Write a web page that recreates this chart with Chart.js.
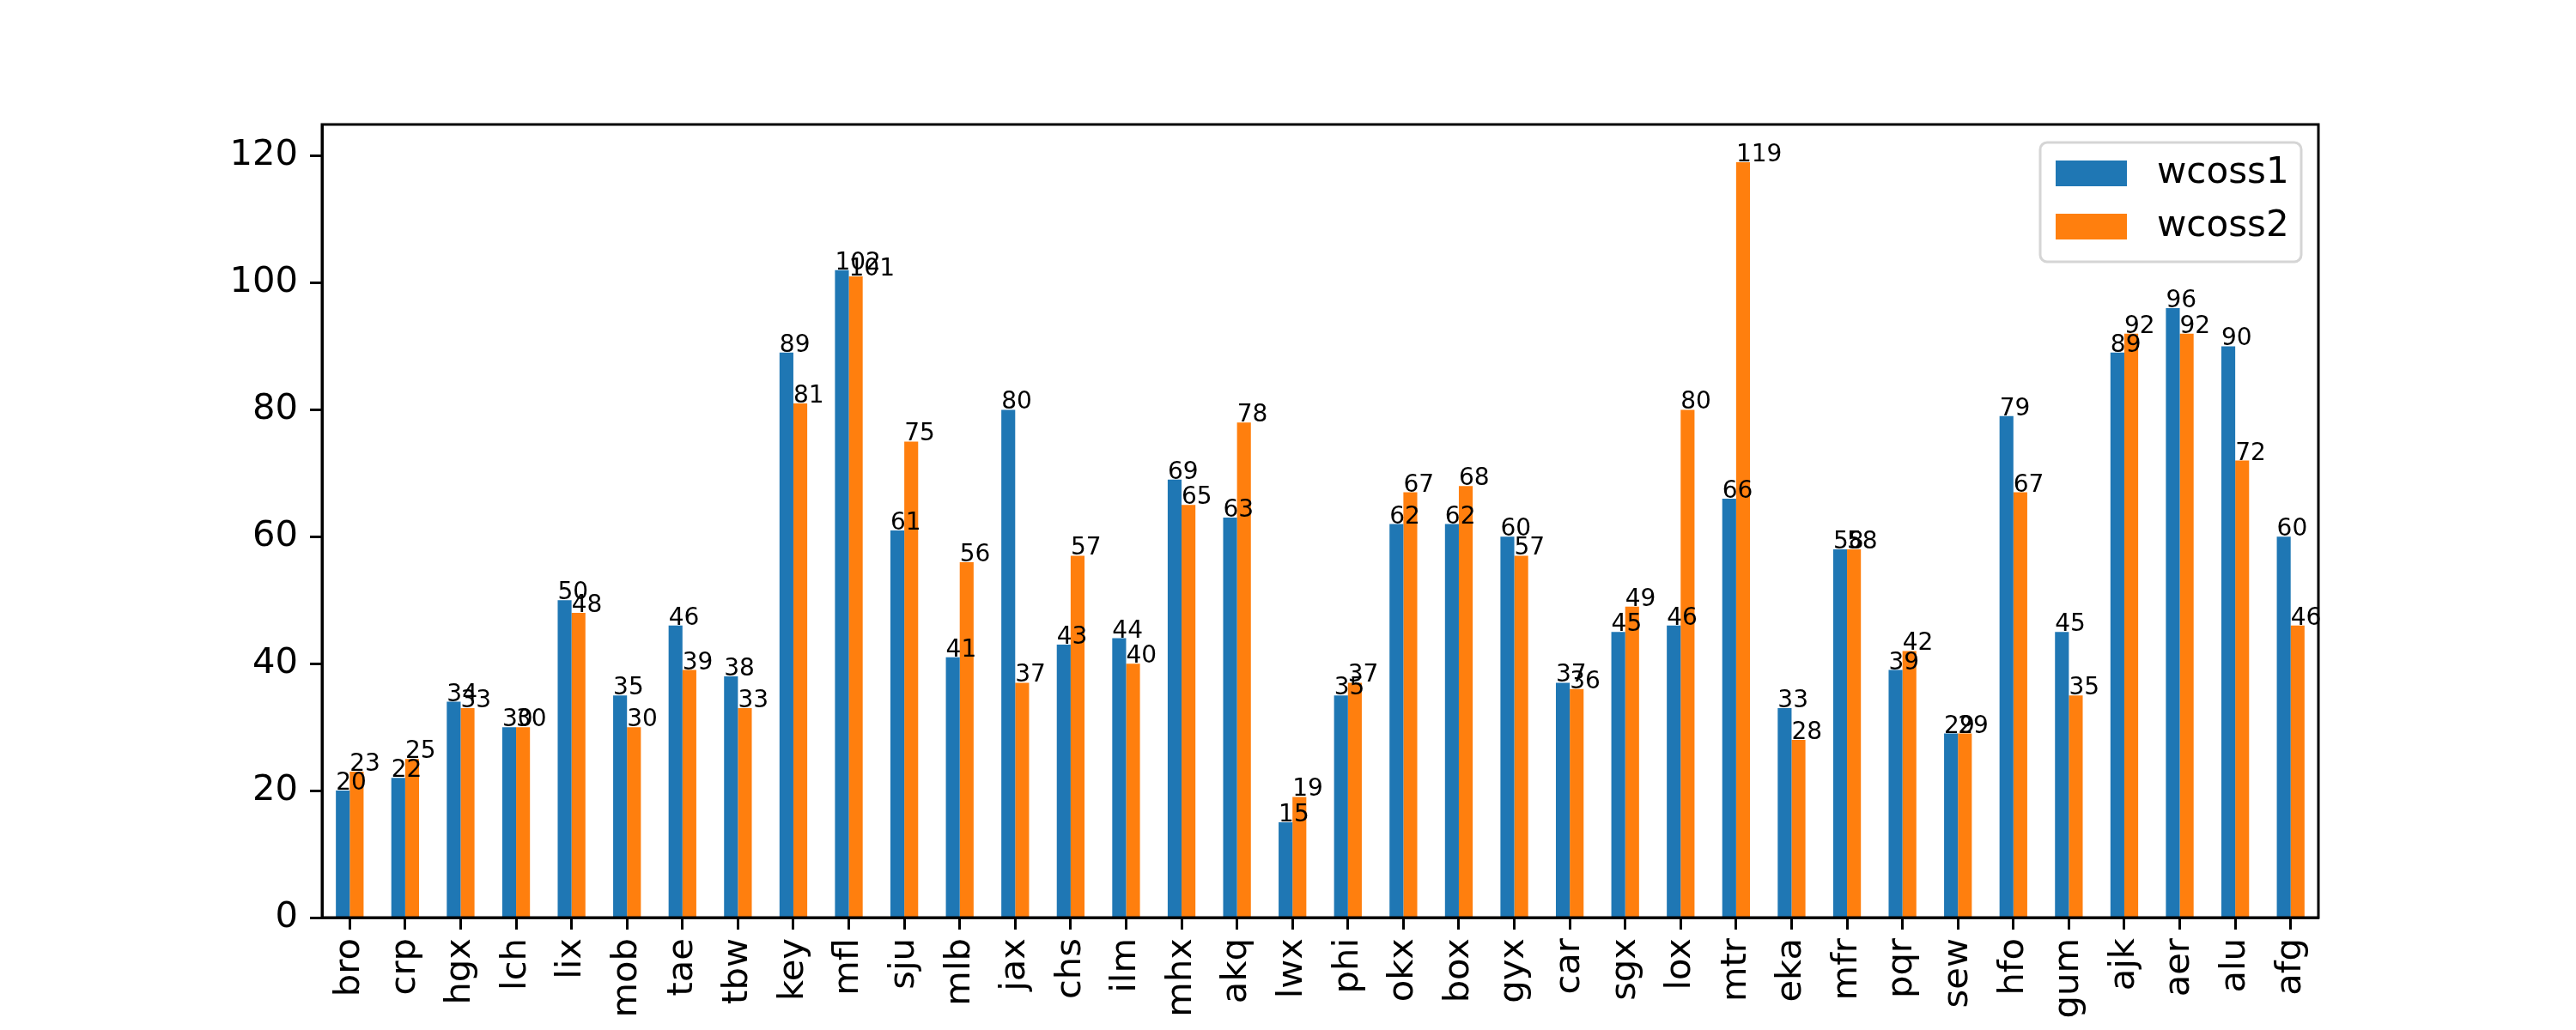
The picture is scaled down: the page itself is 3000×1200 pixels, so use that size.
<!DOCTYPE html>
<html>
<head>
<meta charset="utf-8">
<script src="https://cdn.jsdelivr.net/npm/chart.js@4.4.0/dist/chart.umd.min.js"></script>
<style>
  html, body { margin: 0; padding: 0; background: #fff; }
  canvas { display: block; }
</style>
</head>
<body>
<canvas id="chart" width="3000" height="1200" style="width:3000px;height:1200px"></canvas>
<script>
// Donnees
const categories = ['bro', 'crp', 'hgx', 'lch', 'lix', 'mob', 'tae', 'tbw', 'key', 'mfl', 'sju', 'mlb',
  'jax', 'chs', 'ilm', 'mhx', 'akq', 'lwx', 'phi', 'okx', 'box', 'gyx', 'car', 'sgx',
  'lox', 'mtr', 'eka', 'mfr', 'pqr', 'sew', 'hfo', 'gum', 'ajk', 'aer', 'alu', 'afg'];
const wcoss1 = [20, 22, 34, 30, 50, 35, 46, 38, 89, 102, 61, 41,
  80, 43, 44, 69, 63, 15, 35, 62, 62, 60, 37, 45,
  46, 66, 33, 58, 39, 29, 79, 45, 89, 96, 90, 60];
const wcoss2 = [23, 25, 33, 30, 48, 30, 39, 33, 81, 101, 75, 56,
  37, 57, 40, 65, 78, 19, 37, 67, 68, 57, 36, 49,
  80, 119, 28, 58, 42, 29, 67, 35, 92, 92, 72, 46];
const seriesNames = ['wcoss1', 'wcoss2'];
const yTicks = [0, 20, 40, 60, 80, 100, 120];
const yMax = 124.95;

const FONT = 'DejaVu Sans';
Chart.defaults.font.family = FONT;
Chart.defaults.color = '#000';

// Cadre autour de la zone de trace
const framePlugin = {
  id: 'frame',
  afterDraw(chart) {
    const { ctx, chartArea: a } = chart;
    ctx.save();
    ctx.strokeStyle = '#000';
    ctx.lineWidth = 3;
    ctx.strokeRect(a.left, a.top, a.right - a.left, a.bottom - a.top);
    ctx.restore();
  }
};

// Valeurs au-dessus des barres
const valuesPlugin = {
  id: 'values',
  afterDatasetsDraw(chart) {
    const { ctx } = chart;
    ctx.save();
    ctx.font = '28px "' + FONT + '"';
    ctx.fillStyle = '#000';
    ctx.textAlign = 'left';
    ctx.textBaseline = 'alphabetic';
    chart.data.datasets.forEach((ds, i) => {
      chart.getDatasetMeta(i).data.forEach((bar, j) => {
        ctx.fillText(String(ds.data[j]), bar.x - bar.width / 2, bar.y - 1);
      });
    });
    ctx.restore();
  }
};

// Legende dans le coin haut droit
const legendPlugin = {
  id: 'insideLegend',
  afterDraw(chart) {
    const { ctx, chartArea: a } = chart;
    const x = a.right - 324, y = a.top + 21, w = 304, h = 139;
    ctx.save();
    ctx.fillStyle = 'rgba(255,255,255,0.8)';
    ctx.strokeStyle = '#d5d5d5';
    ctx.lineWidth = 3;
    ctx.beginPath();
    ctx.roundRect(x, y, w, h, 8);
    ctx.fill();
    ctx.stroke();
    ctx.font = '42px "' + FONT + '"';
    ctx.textBaseline = 'middle';
    chart.data.datasets.forEach((ds, i) => {
      const cy = y + 36 + i * 62;
      ctx.fillStyle = ds.backgroundColor;
      ctx.fillRect(x + 18, cy - 15, 83, 30);
      ctx.fillStyle = '#000';
      ctx.fillText(ds.label, x + 136, cy);
    });
    ctx.restore();
  }
};

const ctx = document.getElementById('chart').getContext('2d');
new Chart(ctx, {
  type: 'bar',
  data: {
    labels: categories,
    datasets: [
      { label: seriesNames[0], data: wcoss1, backgroundColor: '#1f77b4', borderWidth: 0 },
      { label: seriesNames[1], data: wcoss2, backgroundColor: '#ff7f0e', borderWidth: 0 }
    ]
  },
  options: {
    responsive: false,
    animation: false,
    devicePixelRatio: 1,
    layout: { padding: { left: 0, right: 300, top: 145, bottom: 0 } },
    datasets: { bar: { categoryPercentage: 0.5, barPercentage: 1.0 } },
    plugins: {
      legend: { display: false },
      tooltip: { enabled: false }
    },
    scales: {
      x: {
        offset: true,
        grid: {
          offset: false, drawOnChartArea: false, drawTicks: true,
          tickLength: 14, tickWidth: 3, tickColor: '#000'
        },
        border: { display: true, color: '#000', width: 3 },
        ticks: {
          minRotation: 90, maxRotation: 90, autoSkip: false,
          padding: 10, font: { size: 41.7 }, color: '#000'
        },
        afterFit(scale) { scale.height = 131; }
      },
      y: {
        min: 0,
        max: yMax,
        grid: {
          drawOnChartArea: false, drawTicks: true,
          tickLength: 14, tickWidth: 3, tickColor: '#000'
        },
        border: { display: true, color: '#000', width: 3 },
        ticks: { padding: 14, font: { size: 41.7 }, color: '#000' },
        afterBuildTicks(scale) { scale.ticks = yTicks.map(v => ({ value: v })); },
        afterFit(scale) { scale.width = 375; }
      }
    }
  },
  plugins: [framePlugin, valuesPlugin, legendPlugin]
});
</script>
</body>
</html>
